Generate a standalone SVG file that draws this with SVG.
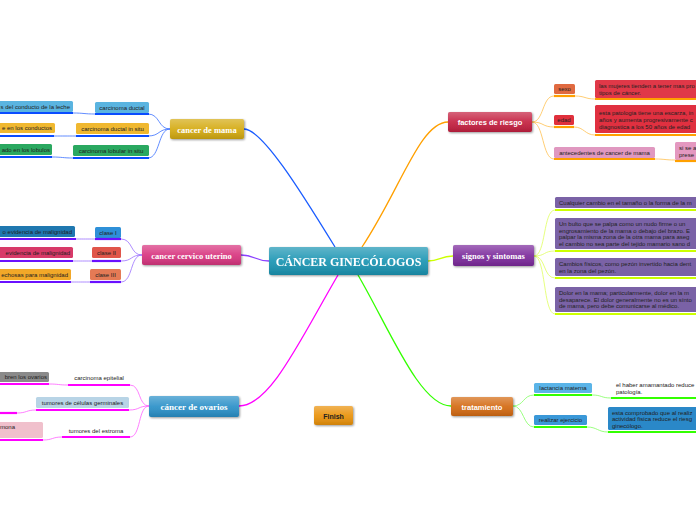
<svg xmlns="http://www.w3.org/2000/svg" width="696" height="520" viewBox="0 0 696 520">
<defs>
<linearGradient id="gloss" x1="0" y1="0" x2="0" y2="1"><stop offset="0" stop-color="#fff" stop-opacity="0.3"/><stop offset="0.5" stop-color="#fff" stop-opacity="0.08"/><stop offset="1" stop-color="#000" stop-opacity="0.12"/></linearGradient>
<filter id="sh" x="-10%" y="-20%" width="130%" height="160%"><feGaussianBlur in="SourceAlpha" stdDeviation="1"/><feOffset dx="0.5" dy="1" result="b"/><feComponentTransfer><feFuncA type="linear" slope="0.4"/></feComponentTransfer><feMerge><feMergeNode/><feMergeNode in="SourceGraphic"/></feMerge></filter>
</defs>
<style>
.main{font-family:"Liberation Serif","DejaVu Serif",serif;font-weight:bold;fill:#fff;text-anchor:middle}
.mains{font-family:"Liberation Sans","DejaVu Sans",sans-serif;font-weight:bold;fill:#fff;text-anchor:middle}
.t{font-family:"Liberation Sans","DejaVu Sans",sans-serif;font-size:6px;fill:#222}
.tc{font-family:"Liberation Sans","DejaVu Sans",sans-serif;font-size:6px;fill:#222;text-anchor:middle}
.c{fill:none}
.ub{stroke:#0a4cff;stroke-width:2.2}
.up{stroke:#6a10ff;stroke-width:2.2}
.um{stroke:#ff00ff;stroke-width:2.2}
.uo{stroke:#ffa000;stroke-width:2.2}
.uy{stroke:#ccff00;stroke-width:2.2}
.ug{stroke:#33ff00;stroke-width:2.2}
</style>
<rect width="696" height="520" fill="#fff"/>

<g id="connectors" class="c">
<path d="M244,129 C262,129 300,190 335,247" stroke="#1a5cff" stroke-width="1.3"/>
<path d="M362,247 C400,190 420,122 448,122" stroke="#ffa000" stroke-width="1.3"/>
<path d="M269,261 C255,261 255,255 241,255" stroke="#8a40ff" stroke-width="1.3"/>
<path d="M428,261 C440,261 440,256 453,256" stroke="#ccff00" stroke-width="1.3"/>
<path d="M338,275 C300,340 270,406 239,406" stroke="#ff00ff" stroke-width="1.3"/>
<path d="M358,275 C390,330 420,406 451,406" stroke="#33ff00" stroke-width="1.3"/>

<g stroke="#3a70ff" stroke-width="0.8">
<path d="M170,129 C158,129 160,114 148,114"/>
<path d="M170,129 C158,129 160,136 148,136"/>
<path d="M170,129 C158,129 160,158 148,158"/>
<path d="M95,114 C84,114 84,113 73,113"/>
<path d="M76,136 C66,136 64,136 54,136"/>
<path d="M73,158 C63,158 62,157 52,157"/>
</g>
<g stroke="#9a70ff" stroke-width="0.8">
<path d="M142,255 C130,255 133,239 121,239"/>
<path d="M142,255 C130,255 133,261 121,261"/>
<path d="M142,255 C130,255 133,282 121,282"/>
<path d="M95,239 C85,239 86,239 76,239"/>
<path d="M92,261 C82,261 83,261 73,261"/>
<path d="M90,282 C80,282 81,282 71,282"/>
</g>
<g stroke="#ff60ff" stroke-width="0.8">
<path d="M149,406 C138,406 141,385 130,385"/>
<path d="M149,406 C138,406 140,410 129,410"/>
<path d="M149,406 C138,406 141,437 130,437"/>
<path d="M68,385 C58,385 59,384 49,384"/>
<path d="M36,410 C26,410 27,413 17,413"/>
<path d="M62,437 C52,437 53,440 43,440"/>
</g>
<g stroke="#ffc050" stroke-width="0.8">
<path d="M532,122 C544,122 542,96 554,96"/>
<path d="M532,122 C544,122 542,127 554,127"/>
<path d="M532,122 C544,122 542,159 554,159"/>
<path d="M575,96 C585,96 585,99 595,99"/>
<path d="M574,127 C584,127 585,135 595,135"/>
<path d="M655,159 C665,159 665,160 675,160"/>
</g>
<g stroke="#e0ff60" stroke-width="0.8">
<path d="M534,256 C546,256 543,210 555,210"/>
<path d="M534,256 C546,256 543,251 555,251"/>
<path d="M534,256 C546,256 543,278 555,278"/>
<path d="M534,256 C546,256 543,314 555,314"/>
</g>
<g stroke="#80ff60" stroke-width="0.8">
<path d="M513,406 C524,406 523,395 534,395"/>
<path d="M513,406 C524,406 523,427 534,427"/>
<path d="M592,395 C602,395 601,398 611,398"/>
<path d="M587,427 C597,427 598,432 608,432"/>
</g>
</g>

<g id="center" filter="url(#sh)">
<rect x="269" y="247" width="159" height="28" rx="2" fill="#1b95b3"/>
<rect x="269" y="247" width="159" height="28" rx="2" fill="url(#gloss)"/>
<text x="348.5" y="265.5" class="main" font-size="12">CÁNCER GINECÓLOGOS</text>
</g>

<g id="cancer-mama">
<g filter="url(#sh)"><rect x="170" y="119" width="74" height="20" rx="2" fill="#d4aa10"/><rect x="170" y="119" width="74" height="20" rx="2" fill="url(#gloss)"/></g>
<text x="207" y="132.5" class="main" font-size="8.5">cancer de mama</text>
</g>
<g id="carcinoma-ductal"><rect x="95" y="102" width="54" height="11" rx="1.5" fill="#5ab4e0"/><text x="122" y="109.5" class="tc">carcinoma ductal</text><line x1="95" y1="114" x2="149" y2="114" class="c ub"/></g>
<g id="carcinoma-ductal-situ"><rect x="76" y="123" width="73" height="11" rx="1.5" fill="#f0b830"/><text x="112.5" y="130.5" class="tc">carcinoma ductal in situ</text><line x1="76" y1="136" x2="149" y2="136" class="c ub"/></g>
<g id="carcinoma-lobular"><rect x="73" y="145" width="76" height="11" rx="1.5" fill="#2aa860"/><text x="111" y="152.5" class="tc">carcinoma lobular in situ</text><line x1="73" y1="158" x2="149" y2="158" class="c ub"/></g>
<g id="leaf-leche"><rect x="-5" y="101" width="78" height="11" rx="1.5" fill="#5ab4e0"/><text x="70" y="108.5" class="t" text-anchor="end">s del conducto de la leche</text><line x1="0" y1="113" x2="73" y2="113" class="c ub"/></g>
<g id="leaf-conductos"><rect x="-5" y="123" width="60" height="10" rx="1.5" fill="#f0b830"/><text x="52" y="130" class="t" text-anchor="end">e en los conductos</text><line x1="0" y1="136" x2="54" y2="136" class="c ub"/></g>
<g id="leaf-lobulos"><rect x="-5" y="144" width="57" height="11" rx="1.5" fill="#2aa860"/><text x="50" y="151.5" class="t" text-anchor="end">ado en los lobulos</text><line x1="0" y1="157" x2="52" y2="157" class="c ub"/></g>

<g id="cancer-cervico">
<g filter="url(#sh)"><rect x="142" y="245" width="99" height="20" rx="2" fill="#d8357f"/><rect x="142" y="245" width="99" height="20" rx="2" fill="url(#gloss)"/></g>
<text x="191.5" y="258.5" class="main" font-size="8.5">cancer cervico uterino</text>
</g>
<g id="clase-i"><rect x="95" y="227" width="26" height="11" rx="1.5" fill="#2e90d8"/><text x="108" y="234.5" class="tc">clase I</text><line x1="95" y1="239" x2="121" y2="239" class="c up"/></g>
<g id="clase-ii"><rect x="92" y="247" width="29" height="11" rx="1.5" fill="#e0554a"/><text x="106.5" y="254.5" class="tc">clase II</text><line x1="92" y1="261" x2="121" y2="261" class="c up"/></g>
<g id="clase-iii"><rect x="90" y="269" width="31" height="11" rx="1.5" fill="#e47a55"/><text x="105.5" y="276.5" class="tc">clase III</text><line x1="90" y1="282" x2="121" y2="282" class="c up"/></g>
<g id="leaf-clase-i"><rect x="-5" y="226" width="80" height="11" rx="1.5" fill="#1f78b0"/><text x="72" y="233.5" class="t" text-anchor="end">o evidencia de malignidad</text><line x1="0" y1="239" x2="76" y2="239" class="c up"/></g>
<g id="leaf-clase-ii"><rect x="-5" y="247" width="78" height="11" rx="1.5" fill="#d83a68"/><text x="70" y="254.5" class="t" text-anchor="end">evidencia de malignidad</text><line x1="0" y1="261" x2="73" y2="261" class="c up"/></g>
<g id="leaf-clase-iii"><rect x="-5" y="269" width="76" height="11" rx="1.5" fill="#f2a828"/><text x="68" y="276.5" class="t" text-anchor="end">echosas para malignidad</text><line x1="0" y1="282" x2="71" y2="282" class="c up"/></g>

<g id="cancer-ovarios">
<g filter="url(#sh)"><rect x="149" y="396" width="90" height="21" rx="2" fill="#2a90c8"/><rect x="149" y="396" width="90" height="21" rx="2" fill="url(#gloss)"/></g>
<text x="194" y="410" class="main" font-size="9">cáncer de ovarios</text>
</g>
<g id="carcinoma-epitelial"><text x="99" y="380" class="tc">carcinoma epitelial</text><line x1="68" y1="385" x2="130" y2="385" class="c um"/></g>
<g id="tumores-germinales"><rect x="36" y="397" width="93" height="11" rx="1.5" fill="#b8d4e6"/><text x="82.5" y="404.5" class="tc">tumores de células germinales</text><line x1="36" y1="410" x2="129" y2="410" class="c um"/></g>
<g id="tumores-estroma"><text x="96" y="433" class="tc">tumores del estroma</text><line x1="62" y1="437" x2="130" y2="437" class="c um"/></g>
<g id="leaf-ovarios"><rect x="-5" y="372" width="54" height="10" rx="1.5" fill="#8a8a8a"/><text x="47" y="379" class="t" text-anchor="end">bren los ovarios</text><line x1="0" y1="384" x2="49" y2="384" class="c um"/></g>
<g id="leaf-germinales"><line x1="0" y1="413" x2="17" y2="413" class="c um"/></g>
<g id="leaf-estroma"><rect x="-5" y="422" width="48" height="16" rx="1.5" fill="#f0c0cc"/><text x="0" y="429" class="t">mona</text><line x1="0" y1="440" x2="43" y2="440" class="c um"/></g>

<g id="factores">
<g filter="url(#sh)"><rect x="448" y="112" width="84" height="20" rx="2" fill="#c42040"/><rect x="448" y="112" width="84" height="20" rx="2" fill="url(#gloss)"/></g>
<text x="490" y="125" class="mains" font-size="7.5">factores de riesgo</text>
</g>
<g id="sexo"><rect x="554" y="84" width="21" height="10" rx="1.5" fill="#e06a40"/><text x="564.5" y="91" class="tc">sexo</text><line x1="554" y1="96" x2="575" y2="96" class="c uo"/></g>
<g id="edad"><rect x="554" y="115" width="20" height="10" rx="1.5" fill="#e0303c"/><text x="564" y="122" class="tc">edad</text><line x1="554" y1="127" x2="574" y2="127" class="c uo"/></g>
<g id="antecedentes"><rect x="554" y="147" width="101" height="11" rx="1.5" fill="#e098c0"/><text x="604.5" y="154.5" class="tc">antecedentes de cancer de mama</text><line x1="554" y1="159" x2="655" y2="159" class="c uo"/></g>
<g id="leaf-sexo"><rect x="595" y="80" width="106" height="18" rx="1.5" fill="#e03848"/><text x="599" y="87.5" class="t">las mujeres tienden a tener mas pro</text><text x="599" y="94.5" class="t">tipos de cáncer.</text><line x1="595" y1="99" x2="696" y2="99" class="c uo"/></g>
<g id="leaf-edad"><rect x="595" y="105" width="106" height="28" rx="1.5" fill="#e03040"/><text x="599" y="115" class="t">esta patologia tiene una escarza, in</text><text x="599" y="122" class="t">años y aumenta progresivamente c</text><text x="599" y="129" class="t">diagnostica a los 50 años de edad</text><line x1="595" y1="135" x2="696" y2="135" class="c uo"/></g>
<g id="leaf-antecedentes"><rect x="675" y="142" width="26" height="18" rx="1.5" fill="#e498c0"/><text x="679" y="149.5" class="t">si se a</text><text x="679" y="156.5" class="t">prese</text><line x1="675" y1="161" x2="696" y2="161" class="c uo"/></g>

<g id="signos">
<g filter="url(#sh)"><rect x="453" y="245" width="81" height="21" rx="2" fill="#7c2a9c"/><rect x="453" y="245" width="81" height="21" rx="2" fill="url(#gloss)"/></g>
<text x="493.5" y="259" class="main" font-size="8.5">signos y sintomas</text>
</g>
<g id="signo-1"><rect x="555" y="197" width="146" height="11" rx="1.5" fill="#7a62a6"/><text x="559" y="204.5" class="t">Cualquier cambio en el tamaño o la forma de la m</text><line x1="555" y1="210" x2="696" y2="210" class="c uy"/></g>
<g id="signo-2"><rect x="555" y="218" width="146" height="31" rx="1.5" fill="#7a62a6"/><text x="559" y="226" class="t">Un bulto que se palpa como un nudo firme o un</text><text x="559" y="232.5" class="t">engrosamiento de la mama o debajo del brazo. E</text><text x="559" y="239" class="t">palpar la misma zona de la otra mama para aseg</text><text x="559" y="245.5" class="t">el cambio no sea parte del tejido mamario sano d</text><line x1="555" y1="251" x2="696" y2="251" class="c uy"/></g>
<g id="signo-3"><rect x="555" y="258" width="146" height="18" rx="1.5" fill="#7a62a6"/><text x="559" y="266" class="t">Cambios físicos, como pezón invertido hacia dent</text><text x="559" y="272.5" class="t">en la zona del pezón.</text><line x1="555" y1="278" x2="696" y2="278" class="c uy"/></g>
<g id="signo-4"><rect x="555" y="287" width="146" height="25" rx="1.5" fill="#7a62a6"/><text x="559" y="295" class="t">Dolor en la mama; particularmente, dolor en la m</text><text x="559" y="301.5" class="t">desaparece. El dolor generalmente no es un sínto</text><text x="559" y="308" class="t">de mama, pero debe comunicarse al médico.</text><line x1="555" y1="314" x2="696" y2="314" class="c uy"/></g>

<g id="tratamiento">
<g filter="url(#sh)"><rect x="451" y="397" width="62" height="19" rx="2" fill="#d46a12"/><rect x="451" y="397" width="62" height="19" rx="2" fill="url(#gloss)"/></g>
<text x="482" y="409.5" class="mains" font-size="7.5">tratamiento</text>
</g>
<g id="lactancia"><rect x="534" y="383" width="58" height="10" rx="1.5" fill="#5ab4e8"/><text x="563" y="390" class="tc">lactancia materna</text><line x1="534" y1="395" x2="592" y2="395" class="c ug"/></g>
<g id="ejercicio"><rect x="534" y="415" width="53" height="10" rx="1.5" fill="#3a98d8"/><text x="560.5" y="422" class="tc">realizar ejercicio</text><line x1="534" y1="427" x2="587" y2="427" class="c ug"/></g>
<g id="leaf-lactancia"><text x="616" y="387" class="t">el haber amamantado reduce</text><text x="616" y="394" class="t">patología.</text><line x1="611" y1="398" x2="696" y2="398" class="c ug"/></g>
<g id="leaf-ejercicio"><rect x="608" y="407" width="93" height="23" rx="1.5" fill="#2a88c8"/><text x="612" y="414.5" class="t">esta comprobado que al realiz</text><text x="612" y="421" class="t">actividad fisica reduce el riesg</text><text x="612" y="427.5" class="t">ginecólogo.</text><line x1="608" y1="432" x2="696" y2="432" class="c ug"/></g>

<g id="finish">
<g filter="url(#sh)"><rect x="314" y="406" width="39" height="19" rx="2" fill="#ea920a"/><rect x="314" y="406" width="39" height="19" rx="2" fill="url(#gloss)"/></g>
<text x="333.5" y="418.5" font-family="Liberation Sans, DejaVu Sans, sans-serif" font-weight="bold" font-size="7" fill="#222" text-anchor="middle">Finish</text>
</g>
</svg>
